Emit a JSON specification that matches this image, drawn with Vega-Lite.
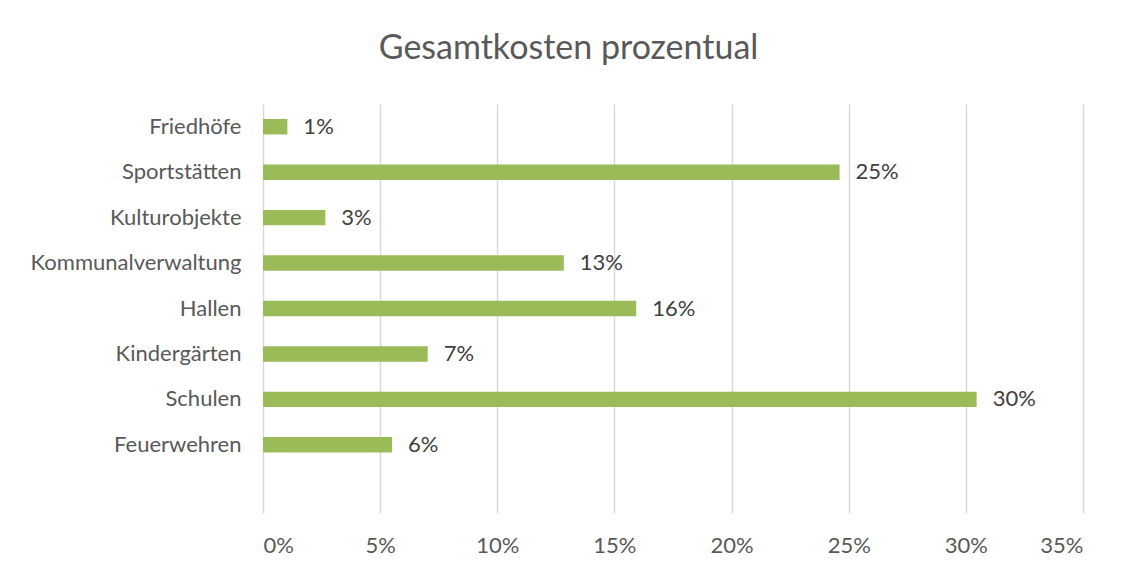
{
  "$schema": "https://vega.github.io/schema/vega-lite/v6.json",
  "width": 820,
  "height": 409,
  "autosize": {"type": "none"},
  "padding": {"left": 263, "top": 104, "right": 41, "bottom": 58},
  "background": "white",
  "title": {
    "text": "Gesamtkosten prozentual",
    "frame": "bounds",
    "anchor": "middle",
    "dx": 12,
    "fontSize": 34,
    "font": "Lato",
    "fontWeight": "normal",
    "color": "#595959",
    "offset": 38
  },
  "config": {"view": {"stroke": null}},
  "data": {
    "values": [
      {"category": "Friedhöfe", "share": 0.0104},
      {"category": "Sportstätten", "share": 0.2461},
      {"category": "Kulturobjekte", "share": 0.0266},
      {"category": "Kommunalverwaltung", "share": 0.1284},
      {"category": "Hallen", "share": 0.1593},
      {"category": "Kindergärten", "share": 0.0703},
      {"category": "Schulen", "share": 0.3046},
      {"category": "Feuerwehren", "share": 0.0551}
    ]
  },
  "encoding": {
    "y": {
      "field": "category",
      "type": "nominal",
      "sort": null,
      "scale": {
        "domain": ["Friedhöfe", "Sportstätten", "Kulturobjekte", "Kommunalverwaltung", "Hallen", "Kindergärten", "Schulen", "Feuerwehren", " "],
        "paddingInner": 0.66,
        "paddingOuter": 0.33
      },
      "axis": {
        "title": null,
        "domain": false,
        "ticks": false,
        "grid": false,
        "labelPadding": 22,
        "labelLimit": 400,
        "labelFont": "Lato",
        "labelFontSize": 22,
        "labelColor": "#595959"
      }
    },
    "x": {
      "field": "share",
      "type": "quantitative",
      "scale": {"domain": [0, 0.35], "nice": false},
      "axis": {
        "title": null,
        "values": [0, 0.05, 0.1, 0.15, 0.2, 0.25, 0.3, 0.35],
        "format": ".0%",
        "grid": true,
        "gridColor": "#D9D9D9",
        "gridWidth": 1.5,
        "domain": false,
        "ticks": false,
        "labelPadding": 22,
        "labelFont": "Lato",
        "labelFontSize": 22,
        "labelColor": "#595959"
      }
    }
  },
  "layer": [
    {"mark": {"type": "bar", "color": "#9BBB59"}},
    {
      "mark": {"type": "text", "align": "left", "baseline": "middle", "dx": 16, "font": "Lato", "fontSize": 22, "color": "#404040"},
      "encoding": {"text": {"field": "share", "type": "quantitative", "format": ".0%"}}
    }
  ]
}
